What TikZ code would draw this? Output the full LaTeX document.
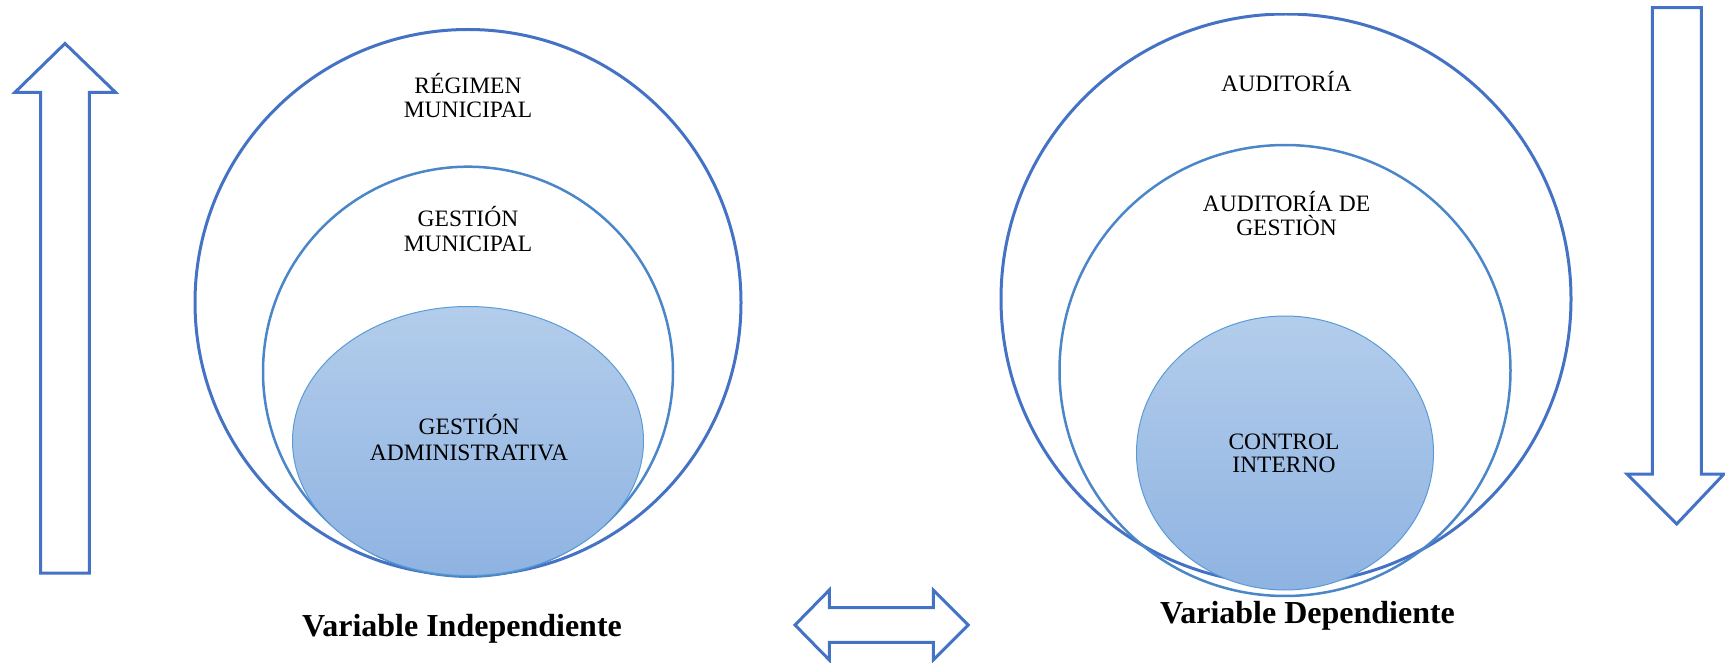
\documentclass[tikz,border=0pt]{standalone}
\usepackage{fontspec}
\setmainfont{Liberation Serif}
\definecolor{edgeblue}{HTML}{4472C4}
\definecolor{midblue}{HTML}{4A86C8}
\definecolor{rimblue}{HTML}{5B9BD5}
\definecolor{filltop}{HTML}{B3CDEB}
\definecolor{fillbot}{HTML}{8FB3E2}
\begin{document}
\begin{tikzpicture}[x=0.5pt,y=-0.5pt,
  outerring/.style={draw=edgeblue,line width=1.5pt},
  midring/.style={draw=midblue,line width=1.25pt},
  core/.style={draw=rimblue,line width=0.5pt,top color=filltop,bottom color=fillbot},
  blockarrow/.style={draw=edgeblue,line width=1.5pt,line join=miter},
  lbl/.style={anchor=base,inner sep=0pt,font=\fontsize{11.75}{12.5}\selectfont},
  caption/.style={anchor=base,inner sep=0pt,font=\fontsize{16}{19}\selectfont\bfseries}]
\useasboundingbox (0,0) rectangle (1725,663);

% independent variable: nested rings
\draw[outerring] (468,302.5) circle [radius=136.5pt];
\draw[midring] (468,371.7) circle [radius=102.5pt];
\path[core] (468,441) ellipse [x radius=87.75pt, y radius=67.25pt];

% dependent variable: nested rings (outer ring trimmed at the top edge)
\begin{scope}
  \clip (950,13.5) rectangle (1650,620);
  \draw[outerring] (1286,299) circle [radius=142.5pt];
\end{scope}
\draw[midring] (1285,370.5) circle [radius=112.75pt];
\path[core] (1285,453) ellipse [x radius=74.25pt, y radius=68.5pt];

% ring labels
\node[lbl] (reg1) at (468,93.3) {RÉGIMEN};
\node[lbl] (reg2) at (468,118) {MUNICIPAL};
\node[lbl] (gm1) at (468,226.7) {GESTIÓN};
\node[lbl] (gm2) at (468,251.7) {MUNICIPAL};
\node[lbl] (ga1) at (469,435) {GESTIÓN};
\node[lbl] (ga2) at (469,460) {ADMINISTRATIVA};

\node[lbl] (aud) at (1286.5,92) {AUDITORÍA};
\node[lbl] (ag1) at (1286.5,211.7) {AUDITORÍA DE};
\node[lbl] (ag2) at (1286.5,235.7) {GESTIÒN};
\node[lbl] (ci1) at (1284,450) {CONTROL};
\node[lbl] (ci2) at (1284,473) {INTERNO};

% captions
\node[caption] (vi) at (462,636.7) {Variable Independiente};
\node[caption] (vd) at (1307.5,623.3) {Variable Dependiente};

% block arrows
\draw[blockarrow] (65,43.5) -- (115.5,92.3) -- (89.3,92.3) -- (89.3,573)
  -- (40.7,573) -- (40.7,92.3) -- (15,92.3) -- cycle;
\draw[blockarrow] (1652.3,7.7) -- (1701.3,7.7) -- (1701.3,474) -- (1724,474)
  -- (1676.7,524) -- (1627,474) -- (1652.3,474) -- cycle;
\draw[blockarrow] (795,625) -- (829.3,590) -- (829.3,607.7) -- (933.3,607.7)
  -- (933.3,590) -- (968.3,625) -- (933.3,660) -- (933.3,642.3)
  -- (829.3,642.3) -- (829.3,660) -- cycle;
\end{tikzpicture}
\end{document}
